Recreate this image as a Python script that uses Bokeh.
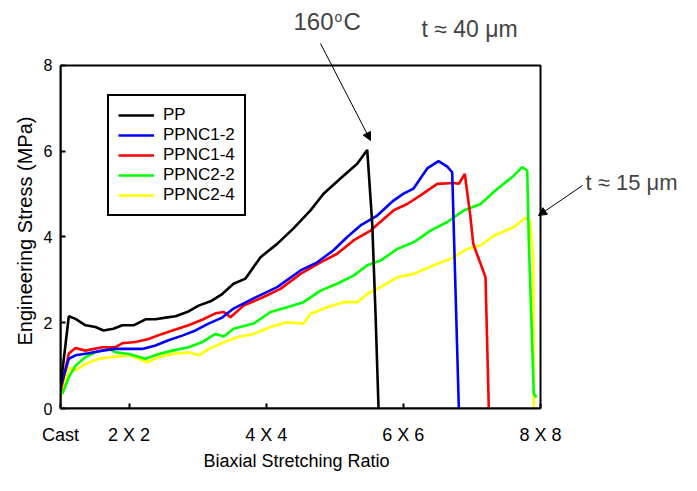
from bokeh.plotting import figure
from bokeh.models import (Range1d, FixedTicker, Legend, LegendItem, Label, Arrow, NormalHead,
                          BoxAnnotation, Title)
from bokeh.embed import file_html
from bokeh.resources import INLINE

# ---- data ----
tick_values = [1, 2, 4, 6, 8]
tick_labels = ["Cast", "2 X 2", "4 X 4", "6 X 6", "8 X 8"]
y_ticks = [0, 2, 4, 6, 8]

pp_x = [1.00, 1.121, 1.219, 1.365, 1.510, 1.627, 1.773, 1.900, 2.065, 2.240, 2.385, 2.531, 2.677,
        2.848, 3.013, 3.188, 3.358, 3.523, 3.698, 3.917, 4.160, 4.398, 4.646, 4.836, 5.127, 5.327,
        5.473, 5.546, 5.594, 5.638]
pp_y = [0.50, 2.15, 2.09, 1.94, 1.90, 1.82, 1.86, 1.94, 1.94, 2.08, 2.08, 2.12, 2.15,
        2.25, 2.40, 2.50, 2.67, 2.91, 3.03, 3.53, 3.84, 4.20, 4.62, 5.01, 5.43, 5.71,
        6.03, 4.31, 2.21, 0.00]

nc12_x = [1.00, 1.121, 1.219, 1.408, 1.608, 1.802, 1.992, 2.191, 2.385, 2.575, 2.775, 2.969, 3.158,
          3.358, 3.523, 3.815, 4.160, 4.500, 4.744, 4.981, 5.181, 5.375, 5.619, 5.856, 6.002, 6.148,
          6.348, 6.513, 6.640, 6.712, 6.809]
nc12_y = [0.50, 1.16, 1.24, 1.29, 1.35, 1.39, 1.39, 1.39, 1.47, 1.59, 1.70, 1.82, 1.98,
          2.12, 2.33, 2.57, 2.83, 3.22, 3.41, 3.69, 4.00, 4.27, 4.50, 4.85, 5.01, 5.13,
          5.60, 5.77, 5.64, 5.51, 0.00]

nc14_x = [1.00, 1.121, 1.219, 1.365, 1.608, 1.802, 1.900, 2.094, 2.283, 2.483, 2.677, 2.867, 3.066,
          3.260, 3.382, 3.479, 3.669, 3.960, 4.208, 4.500, 4.792, 5.035, 5.273, 5.521, 5.856, 6.056,
          6.250, 6.494, 6.736, 6.809, 6.896, 6.979, 7.019, 7.198, 7.246]
nc14_y = [0.40, 1.28, 1.41, 1.35, 1.43, 1.43, 1.52, 1.55, 1.62, 1.74, 1.84, 1.94, 2.07,
          2.22, 2.25, 2.13, 2.40, 2.60, 2.79, 3.14, 3.41, 3.61, 3.92, 4.15, 4.62, 4.77,
          4.97, 5.24, 5.26, 5.24, 5.47, 4.46, 3.84, 3.06, 0.00]

nc22_x = [1.025, 1.121, 1.219, 1.365, 1.510, 1.704, 1.802, 1.996, 2.240, 2.434, 2.629, 2.871, 3.066,
          3.260, 3.382, 3.523, 3.815, 4.063, 4.306, 4.544, 4.792, 5.035, 5.273, 5.473, 5.667, 5.910,
          6.152, 6.396, 6.640, 6.882, 7.125, 7.368, 7.611, 7.733, 7.806, 7.829, 7.902, 7.942]
nc22_y = [0.34, 0.73, 1.00, 1.20, 1.31, 1.39, 1.31, 1.27, 1.16, 1.27, 1.35, 1.43, 1.55,
          1.74, 1.68, 1.86, 1.98, 2.25, 2.36, 2.48, 2.75, 2.91, 3.10, 3.34, 3.45, 3.72,
          3.88, 4.15, 4.35, 4.62, 4.77, 5.12, 5.43, 5.63, 5.55, 3.92, 0.34, 0.26]

nc24_x = [1.00, 1.121, 1.219, 1.365, 1.559, 1.802, 1.996, 2.142, 2.264, 2.434, 2.629, 2.871, 3.017,
          3.163, 3.345, 3.577, 3.815, 4.063, 4.306, 4.544, 4.646, 4.890, 5.127, 5.327, 5.473, 5.667,
          5.910, 6.152, 6.444, 6.688, 6.931, 7.125, 7.319, 7.611, 7.781, 7.844, 7.894, 7.902]
nc24_y = [0.26, 0.96, 0.89, 1.04, 1.16, 1.21, 1.24, 1.16, 1.08, 1.20, 1.27, 1.31, 1.24,
          1.39, 1.52, 1.66, 1.74, 1.90, 2.01, 1.98, 2.21, 2.36, 2.48, 2.48, 2.67, 2.83,
          3.06, 3.14, 3.34, 3.49, 3.72, 3.80, 4.03, 4.23, 4.45, 4.38, 3.53, 0.00]

series = [
    ("PP", pp_x, pp_y, "#000000"),
    ("PPNC1-2", nc12_x, nc12_y, "#0000FF"),
    ("PPNC1-4", nc14_x, nc14_y, "#FF0000"),
    ("PPNC2-2", nc22_x, nc22_y, "#00FF00"),
    ("PPNC2-4", nc24_x, nc24_y, "#FFFF00"),
]

FONT = "Liberation Sans"

# frame spans the annotation area too; the data box (1..8 x 0..8) is drawn with axis bounds
p = figure(width=681, height=475, output_backend="svg", toolbar_location=None,
           x_range=Range1d(1, 10.056), y_range=Range1d(0, 9.516),
           min_border_left=60, min_border_right=0, min_border_top=0, min_border_bottom=67)
p.background_fill_color = "white"
p.border_fill_color = "white"
p.outline_line_color = None
p.xgrid.visible = False
p.ygrid.visible = False

renderers = {}
for name, xs, ys, col in reversed(series):
    renderers[name] = p.line(xs, ys, line_color=col, line_width=2.6)

# plot box
p.add_layout(BoxAnnotation(left=1, right=8, bottom=0, top=8, fill_alpha=0,
                           line_color="black", line_width=2, line_alpha=1))

items = [LegendItem(label=name, renderers=[renderers[name]]) for name, _, _, _ in series]
legend = Legend(items=items, location=(47, 192))
legend.border_line_color = "black"
legend.border_line_width = 2
legend.border_line_alpha = 1
legend.padding = 9
legend.spacing = 0
legend.margin = 0
legend.label_height = 20
legend.glyph_height = 20
legend.glyph_width = 36
legend.label_standoff = 9
legend.label_text_font = FONT
legend.label_text_font_size = "17px"
legend.label_text_color = "black"
legend.background_fill_alpha = 1
p.add_layout(legend, "center")

# axes
p.xaxis.ticker = FixedTicker(ticks=tick_values)
p.xaxis.major_label_overrides = {v: t for v, t in zip(tick_values, tick_labels)}
p.xaxis.bounds = (1, 8)
p.yaxis.ticker = FixedTicker(ticks=y_ticks)
p.yaxis.bounds = (0, 8)
for ax in (p.xaxis[0], p.yaxis[0]):
    ax.axis_line_width = 2
    ax.axis_line_color = "black"
    ax.major_tick_in = 5
    ax.major_tick_out = 0
    ax.major_tick_line_width = 2
    ax.major_tick_line_color = "black"
    ax.minor_tick_line_color = None
    ax.major_label_text_font = FONT
    ax.major_label_text_color = "black"

p.xaxis.major_label_text_font_size = "18px"
p.xaxis.major_label_standoff = 16
p.yaxis.major_label_text_font_size = "16px"
p.yaxis.major_label_standoff = 8

# axis titles, placed under / beside the data box (frame is wider than the box)
xtitle = Title(text="Biaxial Stretching Ratio", align="left", offset=143, standoff=3,
               text_font=FONT, text_font_size="18px", text_font_style="normal",
               text_color="black")
p.add_layout(xtitle, "below")
ytitle = Title(text="Engineering Stress (MPa)", align="left", offset=63, standoff=10,
               text_font=FONT, text_font_size="20px", text_font_style="normal",
               text_color="black")
p.add_layout(ytitle, "left")

# annotations
p.add_layout(Label(x=4.398, y=9.026, text="160", text_font=FONT, text_font_size="24px",
                   text_baseline="middle", text_align="left"))
p.add_layout(Label(x=4.996, y=9.14, text="o", text_font=FONT, text_font_size="14px",
                   text_baseline="middle", text_align="left"))
p.add_layout(Label(x=5.127, y=9.026, text="C", text_font=FONT, text_font_size="24px",
                   text_baseline="middle", text_align="left"))
p.add_layout(Label(x=6.265, y=8.86, text="t ≈ 40 μm", text_font=FONT, text_font_size="23px",
                   text_baseline="middle", text_align="left"))
p.add_layout(Label(x=8.656, y=5.27, text="t ≈ 15 μm", text_font=FONT, text_font_size="22px",
                   text_baseline="middle", text_align="left"))
p.add_layout(Arrow(x_start=4.792, y_start=8.513, x_end=5.521, y_end=6.251,
                   line_width=1, line_color="black",
                   end=NormalHead(size=8, fill_color="black", line_color="black")))
p.add_layout(Arrow(x_start=8.613, y_start=5.201, x_end=7.971, y_end=4.501,
                   line_width=1, line_color="black",
                   end=NormalHead(size=8, fill_color="black", line_color="black")))

open("out.html", "w").write(file_html(p, INLINE))
